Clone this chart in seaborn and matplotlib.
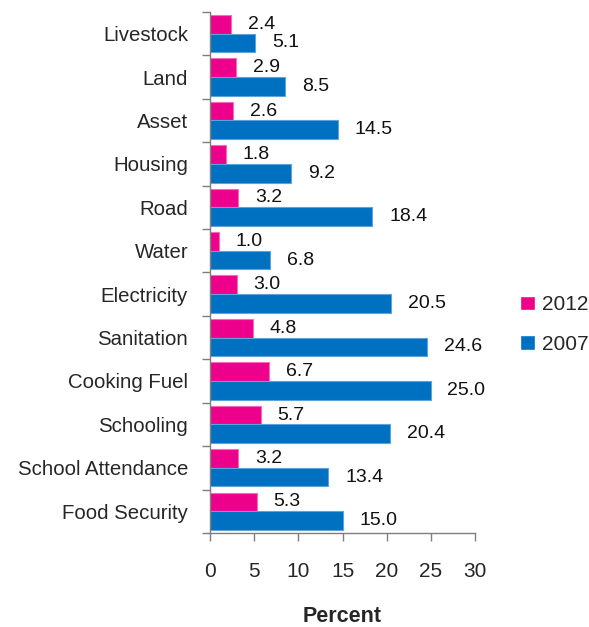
import pandas as pd
import numpy as np
import seaborn as sns
import matplotlib.pyplot as plt

categories = ['Livestock', 'Land', 'Asset', 'Housing', 'Road', 'Water', 'Electricity',
              'Sanitation', 'Cooking Fuel', 'Schooling', 'School Attendance', 'Food Security']
vals_2012 = [2.4, 2.9, 2.6, 1.8, 3.2, 1.0, 3.0, 4.8, 6.7, 5.7, 3.2, 5.3]
vals_2007 = [5.1, 8.5, 14.5, 9.2, 18.4, 6.8, 20.5, 24.6, 25.0, 20.4, 13.4, 15.0]
years = ['2012', '2007']

df = pd.DataFrame({
    'Indicator': categories * 2,
    'Percent': vals_2012 + vals_2007,
    'Year': ['2012'] * len(categories) + ['2007'] * len(categories),
})

sns.set_style('white')
plt.rcParams['font.family'] = ['Liberation Sans', 'DejaVu Sans']

fig = plt.figure(figsize=(5.89, 6.27), dpi=100)
ax = fig.add_axes([0.357, 0.150, 0.449, 0.831])

pal = {'2012': '#EC008C', '2007': '#0070C0'}
edges = {'2012': '#F56BB5', '2007': '#5FA3DA'}
sns.barplot(data=df, y='Indicator', x='Percent', hue='Year', hue_order=years,
            order=categories, palette=pal, orient='h', width=0.86,
            saturation=1, ax=ax, legend=True)

for cont, yr in zip(ax.containers, years):
    for p in cont:
        p.set_edgecolor(edges[yr])
        p.set_linewidth(0.8)
    ax.bar_label(cont, fmt='%.1f', padding=12, fontsize=14, color='#111111')

ax.set_xlim(0, 30)
ax.set_xticks(np.arange(0, 31, 5))
ax.set_ylim(len(categories) - 0.5, -0.5)

# boundary ticks between groups, labels at centres
ax.set_yticks(np.arange(-0.5, len(categories), 1))
ax.set_yticklabels([])
ax.set_yticks(np.arange(len(categories)), minor=True)
ax.set_yticklabels(categories, minor=True, fontsize=14.7)
ax.tick_params(axis='y', which='major', length=6, width=1, color='#7f7f7f', direction='out', left=True)
ax.tick_params(axis='y', which='minor', length=0, pad=16)
ax.tick_params(axis='x', length=6, width=1, color='#7f7f7f', direction='out', bottom=True,
               labelsize=15, pad=15)

for s in ['top', 'right']:
    ax.spines[s].set_visible(False)
for s in ['left', 'bottom']:
    ax.spines[s].set_color('#7f7f7f')
    ax.spines[s].set_linewidth(1)

ax.set_ylabel('')
ax.set_xlabel('Percent', fontsize=15.5, fontweight='bold', labelpad=18)

leg = ax.legend(loc='center left', bbox_to_anchor=(1.1, 0.40), frameon=False,
                fontsize=15, handlelength=0.7, handleheight=0.7, handletextpad=0.35,
                labelspacing=1.0)

fig.savefig('out.png', dpi=100)
